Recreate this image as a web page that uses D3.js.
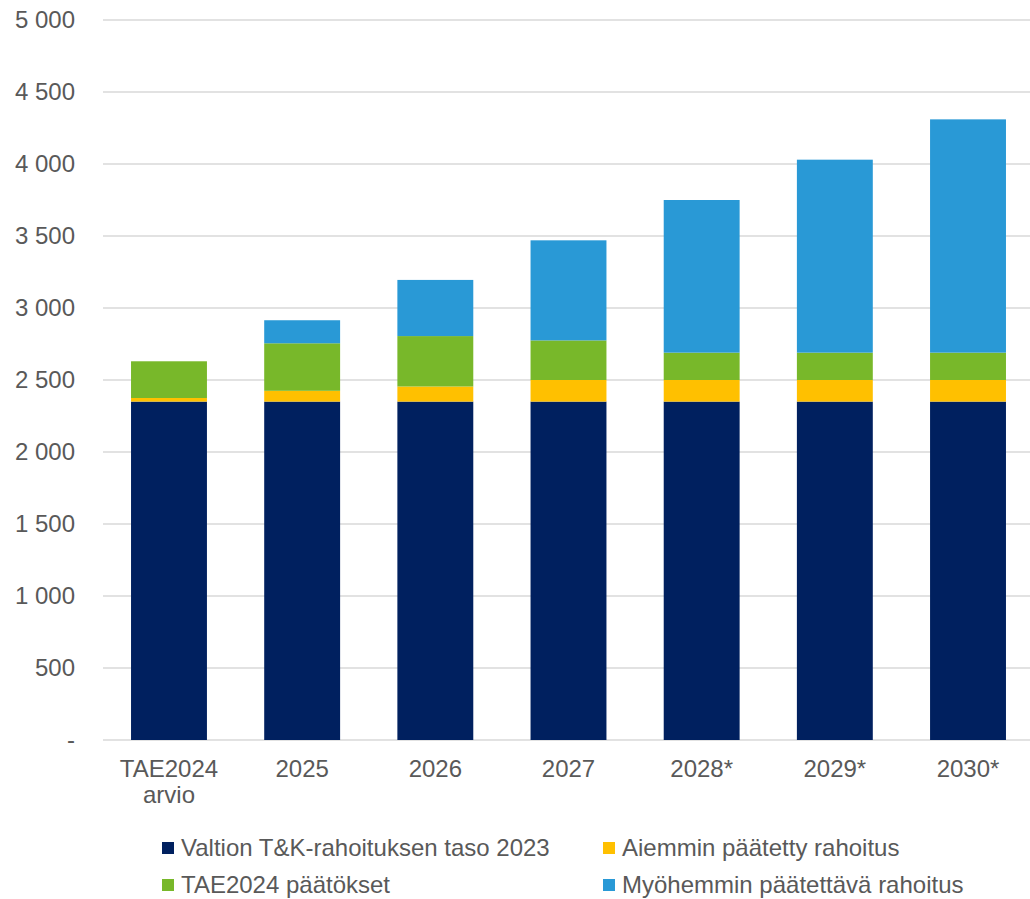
<!DOCTYPE html>
<html>
<head>
<meta charset="utf-8">
<script src="https://cdn.jsdelivr.net/npm/d3@7"></script>
<style>
  body { margin: 0; background: #fff; }
  svg { display: block; }
  text { font-family: "Liberation Sans", Arial, sans-serif; fill: #595959; }
</style>
</head>
<body>
<svg id="chart" width="1030" height="899"></svg>
<script>
// categories and series (M€)
const categories = ["TAE2024|arvio", "2025", "2026", "2027", "2028*", "2029*", "2030*"];
const tasoValues = [2350, 2350, 2350, 2350, 2350, 2350, 2350];
const aiemminValues = [25, 75, 105, 150, 150, 150, 150];
const taeValues = [255, 330, 350, 275, 190, 190, 190];
const myohemminValues = [0, 160, 390, 695, 1060, 1340, 1620];
const yTicks = [0, 500, 1000, 1500, 2000, 2500, 3000, 3500, 4000, 4500, 5000];

const seriesNames = [
  "Valtion T&K-rahoituksen taso 2023",
  "Aiemmin päätetty rahoitus",
  "TAE2024 päätökset",
  "Myöhemmin päätettävä rahoitus"
];
const colors = ["#00205F", "#FFC000", "#78B82A", "#2999D6"];

const svg = d3.select("#chart");
const margin = { left: 103, top: 20, bottom: 159 };
const width = 1030, height = 899;

const rows = categories.map((c, i) => ({
  cat: c,
  s0: tasoValues[i],
  s1: aiemminValues[i],
  s2: taeValues[i],
  s3: myohemminValues[i]
}));

const keys = ["s0", "s1", "s2", "s3"];
const stacked = d3.stack().keys(keys)(rows);

// the last band runs a bit past the right edge, like in the original
const x = d3.scaleBand()
  .domain(categories)
  .range([102.4, 1034.6])
  .paddingInner(0.43)
  .paddingOuter(0.215);

const y = d3.scaleLinear()
  .domain([0, 5000])
  .range([height - margin.bottom, margin.top]);

// gridlines
svg.append("g")
  .selectAll("line")
  .data(yTicks)
  .enter()
  .append("line")
  .attr("x1", margin.left)
  .attr("x2", width)
  .attr("y1", (d) => y(d))
  .attr("y2", (d) => y(d))
  .attr("stroke", "#d9d9d9")
  .attr("stroke-width", 1.5);

// y labels
const fmt = (d) => d === 0 ? "-" : d3.format(",")(d).replace(/,/g, " ");
svg.append("g")
  .selectAll("text")
  .data(yTicks)
  .enter()
  .append("text")
  .attr("x", 75)
  .attr("y", (d) => y(d))
  .attr("dy", "0.35em")
  .attr("text-anchor", "end")
  .style("font-size", "24px")
  .text(fmt);

// bars
svg.append("g")
  .selectAll("g")
  .data(stacked)
  .enter()
  .append("g")
  .attr("fill", (d, i) => colors[i])
  .selectAll("rect")
  .data((d) => d)
  .enter()
  .append("rect")
  .attr("x", (d) => x(d.data.cat))
  .attr("width", x.bandwidth())
  .attr("y", (d) => y(d[1]))
  .attr("height", (d) => y(d[0]) - y(d[1]));

// x labels
const xl = svg.append("g")
  .selectAll("text")
  .data(categories)
  .enter()
  .append("text")
  .attr("x", (d) => x(d) + x.bandwidth() / 2)
  .attr("y", height - margin.bottom + 37)
  .attr("text-anchor", "middle")
  .style("font-size", "24px");
xl.each(function (d) {
  const parts = d.split("|");
  d3.select(this)
    .selectAll("tspan")
    .data(parts)
    .enter()
    .append("tspan")
    .attr("x", x(d) + x.bandwidth() / 2)
    .attr("dy", (p, i) => i === 0 ? 0 : 26)
    .text((p) => p);
});

// legend
const legendPos = [
  { x: 162, y: 848 },
  { x: 603, y: 848 },
  { x: 162, y: 885 },
  { x: 603, y: 885 }
];
const legend = svg.append("g")
  .selectAll("g")
  .data(seriesNames)
  .enter()
  .append("g")
  .attr("transform", (d, i) => "translate(" + legendPos[i].x + "," + legendPos[i].y + ")");
legend.append("rect")
  .attr("x", 0)
  .attr("y", -6)
  .attr("width", 12)
  .attr("height", 12)
  .attr("fill", (d, i) => colors[i]);
legend.append("text")
  .attr("x", 19)
  .attr("y", 0)
  .attr("dy", "0.35em")
  .style("font-size", "24px")
  .text((d) => d);
</script>
</body>
</html>
